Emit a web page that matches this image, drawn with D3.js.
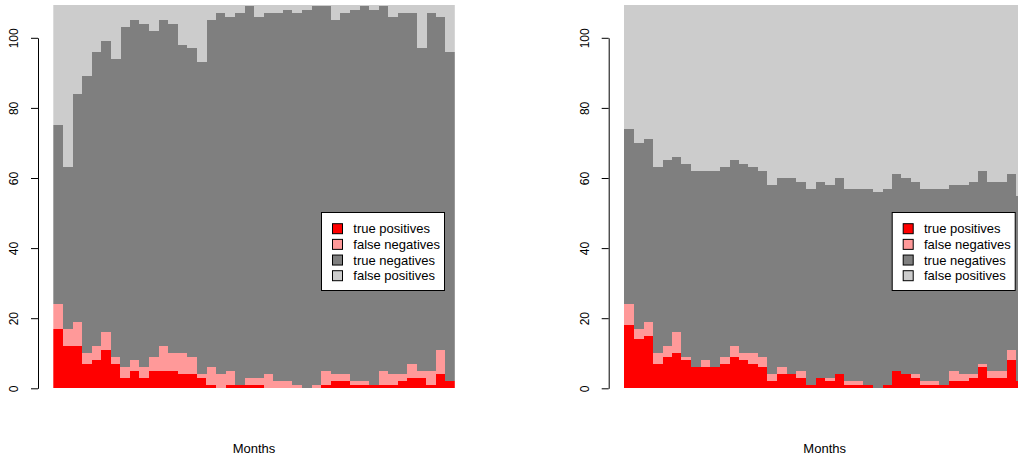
<!DOCTYPE html>
<html>
<head>
<meta charset="utf-8">
<script src="https://cdn.jsdelivr.net/npm/d3@7/dist/d3.min.js"></script>
<style>
  html, body { margin: 0; padding: 0; background: #fff; }
  svg { display: block; font-family: "Liberation Sans", Arial, Helvetica, sans-serif; }
</style>
</head>
<body>
<svg id="chart" width="1018" height="456"></svg>
<script>
// ---------------- data ----------------
const months = d3.range(1, 43);               // 42 months
const seriesNames = ["true positives", "false negatives", "true negatives", "false positives"];
const seriesColors = ["#FF0000", "#FF9999", "#7F7F7F", "#CCCCCC"];
const yTicks = [0, 20, 40, 60, 80, 100];
const monthTotal = 110;                       // cases per month (top is clipped by plot region)

// left panel
const leftTP  = [17,12,12,7,8,11,7,3,5,3,5,5,5,4,4,3,1,0,1,1,1,1,0,0,0,0,0,0,1,2,2,1,1,1,1,1,2,3,3,1,4,2];
const leftFN  = [7,5,7,3,4,5,2,3,3,3,4,7,5,6,5,1,5,4,4,0,2,2,4,2,2,1,0,1,4,2,2,1,1,0,4,3,2,4,2,4,7,0];
const leftTop = [75,63,84,89,96,99,94,103,105,104,102,105,104,98,97,93,105,107,106,107,109,106,107,107,108,107,108,109,109,105,107,108,109,108,109,106,107,107,97,107,106,96];

// right panel
const rightTP  = [18,14,15,7,9,10,8,6,6,6,7,9,8,7,6,2,4,4,3,1,3,2,4,1,1,1,0,1,5,4,3,1,1,1,2,2,3,6,3,3,8,2];
const rightFN  = [6,3,4,3,3,6,1,0,2,0,2,3,2,3,3,2,2,0,2,0,0,1,0,1,1,0,0,0,0,0,1,1,1,0,3,2,1,1,2,2,3,0];
const rightTop = [74,70,71,63,65,66,64,62,62,62,63,65,64,63,62,58,60,60,59,57,59,58,60,57,57,57,56,57,61,60,59,57,57,57,58,58,59,62,59,59,61,55];

// ---------------- drawing ----------------
const svg = d3.select("#chart");
const plotTop = 5, plotBottom = 388.3;

const y = d3.scaleLinear().domain([0, 100]).range([plotBottom, 37.8]);

function drawPanel(idx, offsetX, tp, fn, top) {
  const g = svg.append("g").attr("transform", `translate(${offsetX},0)`);
  const x = d3.scaleBand().domain(months).range([53.3, 454.8]).padding(0);

  const rows = months.map((m, i) => ({
    month: m,
    "true positives": tp[i],
    "false negatives": fn[i],
    "true negatives": top[i] - tp[i] - fn[i],
    "false positives": monthTotal - top[i]
  }));
  const stacked = d3.stack().keys(seriesNames)(rows);

  const clipId = "clip" + idx;
  g.append("clipPath").attr("id", clipId).append("rect")
    .attr("x", 53.3).attr("y", plotTop)
    .attr("width", 454.8 - 53.3).attr("height", plotBottom + 2 - plotTop);

  const bars = g.append("g").attr("clip-path", `url(#${clipId})`).attr("shape-rendering", "crispEdges");
  stacked.forEach((layer, li) => {
    bars.append("g").attr("fill", seriesColors[li])
      .selectAll("rect").data(layer).join("rect")
      .attr("x", d => x(d.data.month))
      .attr("width", x.bandwidth() + 0.4)
      .attr("y", d => y(d[1]))
      .attr("height", d => Math.max(0, y(d[0]) - y(d[1])));
  });

  // y axis
  const ax = g.append("g").attr("transform", "translate(38,0)")
    .call(d3.axisLeft(y).tickValues(yTicks).tickSize(7).tickSizeOuter(0));
  ax.select(".domain").attr("stroke", "#000");
  ax.selectAll(".tick line").attr("stroke", "#000");
  ax.selectAll(".tick text")
    .attr("transform", "rotate(-90)")
    .attr("x", 0).attr("y", -20).attr("dy", 0)
    .attr("text-anchor", "middle")
    .attr("fill", "#000")
    .attr("font-size", 12)
    .attr("font-family", "Liberation Sans, Arial, sans-serif");

  // x label
  g.append("text").attr("x", 254).attr("y", 452.5)
    .attr("text-anchor", "middle").attr("font-size", 13).attr("fill", "#000")
    .text("Months");

  // legend
  const lg = g.append("g");
  lg.append("rect").attr("x", 321.5).attr("y", 212.5).attr("width", 123).attr("height", 78)
    .attr("fill", "#fff").attr("stroke", "#000").attr("stroke-width", 1);
  seriesNames.forEach((name, i) => {
    const cy = 228.7 + i * 15.67;
    lg.append("rect").attr("x", 332.5).attr("y", cy - 5).attr("width", 10).attr("height", 10)
      .attr("fill", seriesColors[i]).attr("stroke", "#000").attr("stroke-width", 1);
    lg.append("text").attr("x", 353.3).attr("y", cy + 4.5)
      .attr("font-size", 13).attr("fill", "#000").text(name);
  });
}

drawPanel(0, 0, leftTP, leftFN, leftTop);
drawPanel(1, 570.7, rightTP, rightFN, rightTop);
</script>
</body>
</html>
